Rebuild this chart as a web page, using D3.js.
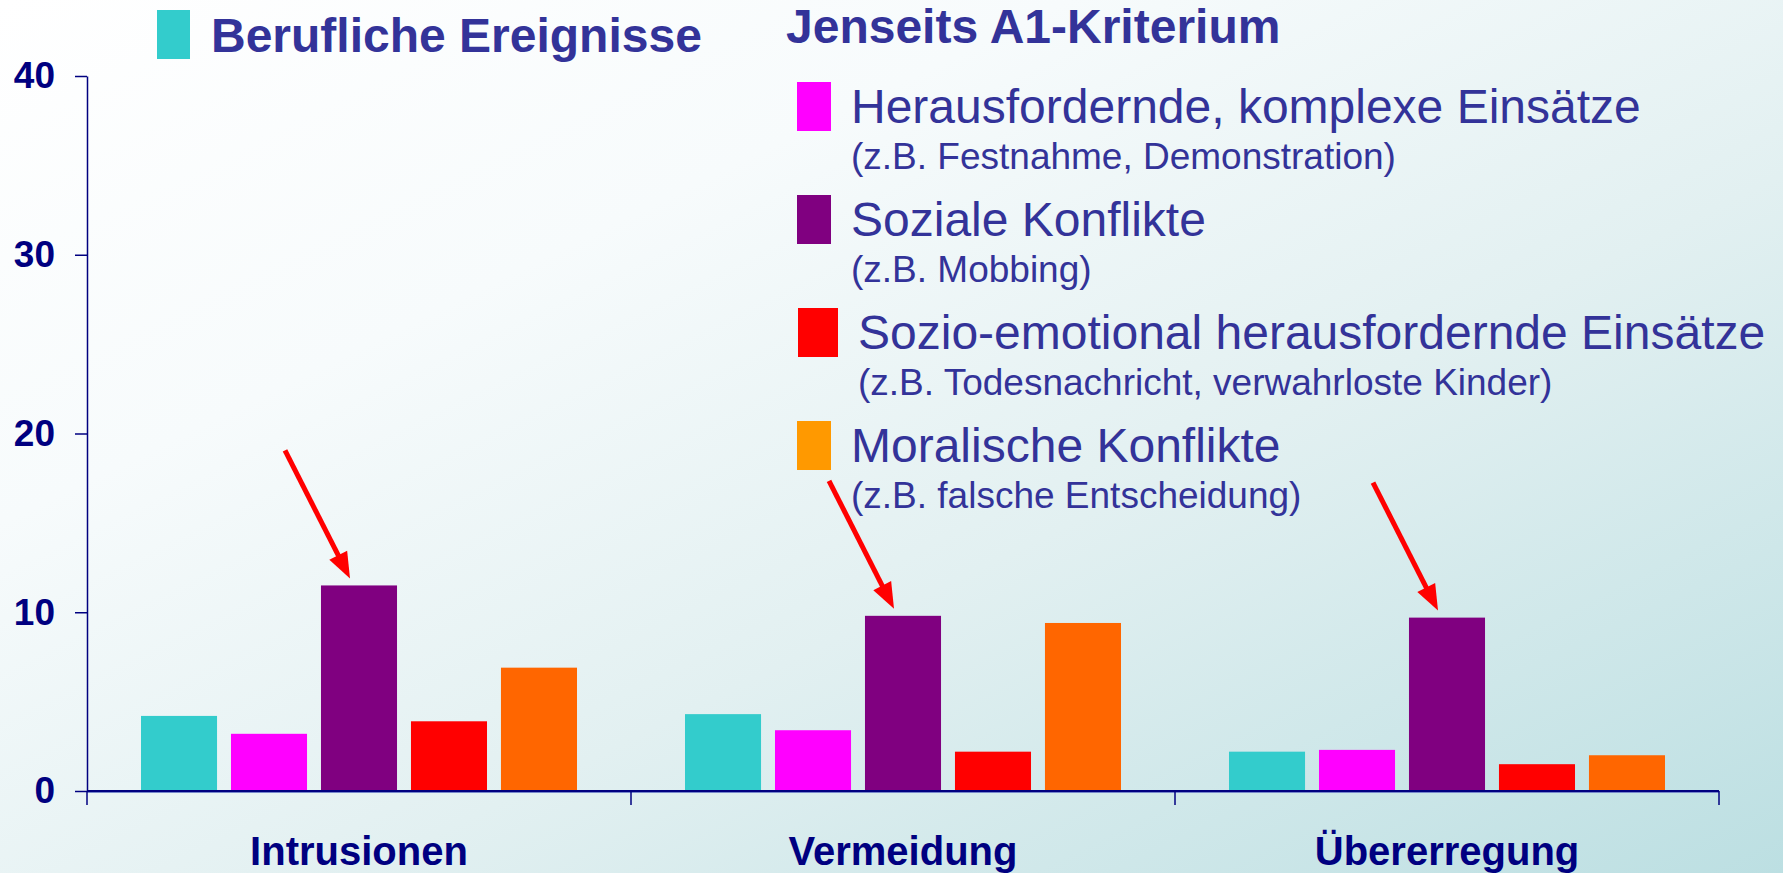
<!DOCTYPE html>
<html>
<head>
<meta charset="utf-8">
<script src="https://cdn.jsdelivr.net/npm/d3@7"></script>
<style>
    body { margin: 0; overflow: hidden; }
    text { font-family: "Liberation Sans", Arial, sans-serif; }
</style>
</head>
<body>
<script>
var width = 1783,
    height = 873;

// categories and series
var categories = ["Intrusionen", "Vermeidung", "Übererregung"];
var seriesNames = ["Berufliche Ereignisse", "Herausfordernde, komplexe Einsätze", "Soziale Konflikte",
    "Sozio-emotional herausfordernde Einsätze", "Moralische Konflikte"];
var seriesNotes = ["", "(z.B. Festnahme, Demonstration)", "(z.B. Mobbing)",
    "(z.B. Todesnachricht, verwahrloste Kinder)", "(z.B. falsche Entscheidung)"];
var barColors = ["#33cccc", "#ff00ff", "#800080", "#ff0000", "#ff6600"];
var legendColors = ["#33cccc", "#ff00ff", "#800080", "#ff0000", "#ff9900"];

// values per series, in the order of categories
var berufliche = [4.2, 4.3, 2.2];
var herausfordernd = [3.2, 3.4, 2.3];
var sozial = [11.5, 9.8, 9.7];
var soziemotional = [3.9, 2.2, 1.5];
var moralisch = [6.9, 9.4, 2.0];

var yTicks = [0, 10, 20, 30, 40];
var highlightSeries = "Soziale Konflikte";
var titleLeft = "Jenseits A1-Kriterium";

var allSeries = [berufliche, herausfordernd, sozial, soziemotional, moralisch];

var data = categories.map(function(c, i) {
    return {
        category: c,
        values: seriesNames.map(function(s, j) { return { series: s, value: allSeries[j][i], color: barColors[j] }; })
    };
});

var navy = "#000080",
    legendText = "#333399";

var svg = d3.select("body").append("svg")
    .attr("width", width)
    .attr("height", height);

/*** BACKGROUND ***/
var grad = svg.append("defs").append("linearGradient")
    .attr("id", "bg")
    .attr("x1", "0").attr("y1", "0")
    .attr("x2", "1").attr("y2", "1");
grad.append("stop").attr("offset", "0").attr("stop-color", "#ffffff");
grad.append("stop").attr("offset", "0.3").attr("stop-color", "#f7fbfc");
grad.append("stop").attr("offset", "0.6").attr("stop-color", "#e2f0f1");
grad.append("stop").attr("offset", "1").attr("stop-color", "#bcdfe2");

svg.append("rect")
    .attr("width", width)
    .attr("height", height)
    .attr("fill", "url(#bg)");

/*** SCALES ***/
var x0 = d3.scaleBand()
    .domain(categories)
    .range([87, 1719])
    .padding(0);

var x1 = d3.scaleBand()
    .domain(seriesNames)
    .range([0, x0.bandwidth()])
    .paddingInner(0.155)
    .paddingOuter(0.6);

var y = d3.scaleLinear()
    .domain([0, 40])
    .range([791, 76]);

/*** BARS ***/
var groups = svg.append("g").selectAll("g")
    .data(data)
    .enter().append("g")
    .attr("transform", function(d) { return "translate(" + x0(d.category) + ",0)"; });

groups.selectAll("rect")
    .data(function(d) { return d.values; })
    .enter().append("rect")
    .attr("x", function(d) { return x1(d.series); })
    .attr("y", function(d) { return y(d.value); })
    .attr("width", x1.bandwidth())
    .attr("height", function(d) { return y(0) - y(d.value); })
    .attr("fill", function(d) { return d.color; });

/*** AXES ***/
var yAxis = d3.axisLeft(y)
    .tickValues(yTicks)
    .tickSize(12)
    .tickSizeOuter(0)
    .tickPadding(20);

var gy = svg.append("g")
    .attr("transform", "translate(87,0)")
    .call(yAxis);
gy.select(".domain").attr("stroke", navy).attr("stroke-width", 1.5);
gy.selectAll(".tick line").attr("stroke", navy).attr("stroke-width", 1.5);
gy.selectAll(".tick text")
    .attr("fill", navy)
    .style("font-size", "37px")
    .style("font-weight", "bold");

// x axis: line plus ticks at category edges
var xEdges = categories.map(function(c) { return x0(c); }).concat([x0.range()[1]]);

svg.append("line")
    .attr("x1", x0.range()[0]).attr("x2", x0.range()[1])
    .attr("y1", y(0) + 1).attr("y2", y(0) + 1)
    .attr("stroke", "#7788cc").attr("stroke-width", 2);
svg.append("line")
    .attr("x1", x0.range()[0]).attr("x2", x0.range()[1])
    .attr("y1", y(0)).attr("y2", y(0))
    .attr("stroke", navy).attr("stroke-width", 2);

svg.append("g").selectAll("line")
    .data(xEdges)
    .enter().append("line")
    .attr("x1", function(d) { return d; })
    .attr("x2", function(d) { return d; })
    .attr("y1", y(0))
    .attr("y2", y(0) + 14)
    .attr("stroke", navy)
    .attr("stroke-width", 1.5);

svg.append("g").selectAll("text")
    .data(categories)
    .enter().append("text")
    .attr("x", function(d) { return x0(d) + x0.bandwidth() / 2; })
    .attr("y", 865)
    .attr("text-anchor", "middle")
    .attr("fill", navy)
    .style("font-size", "40px")
    .style("font-weight", "bold")
    .text(function(d) { return d; });

/*** ARROWS ***/
var arrows = svg.append("g").selectAll("g")
    .data(data)
    .enter().append("g")
    .attr("transform", function(d) {
        var v = d.values.filter(function(e) { return e.series == highlightSeries; })[0].value;
        var tx = x0(d.category) + x1(highlightSeries) + x1.bandwidth() / 2 - 9;
        var ty = y(v) - 7;
        return "translate(" + tx + "," + ty + ")";
    });

var adx = -65, ady = -128;
var alen = Math.sqrt(adx * adx + ady * ady);
var ux = adx / alen, uy = ady / alen;

arrows.append("line")
    .attr("x1", adx).attr("y1", ady)
    .attr("x2", ux * 18).attr("y2", uy * 18)
    .attr("stroke", "#ff0000")
    .attr("stroke-width", 5);

arrows.append("path")
    .attr("d", function() {
        var bx = ux * 26, by = uy * 26;
        var px = -uy * 10, py = ux * 10;
        return "M0,0L" + (bx + px) + "," + (by + py) + "L" + (bx - px) + "," + (by - py) + "Z";
    })
    .attr("fill", "#ff0000");

/*** LEGEND ***/
var legend = svg.append("g");

legend.append("rect")
    .attr("x", 157).attr("y", 10)
    .attr("width", 33).attr("height", 49)
    .attr("fill", legendColors[0]);

legend.append("text")
    .attr("x", 211).attr("y", 52)
    .attr("fill", legendText)
    .style("font-size", "48px")
    .style("font-weight", "bold")
    .text(seriesNames[0]);

legend.append("text")
    .attr("x", 786).attr("y", 43)
    .attr("fill", legendText)
    .style("font-size", "48px")
    .style("font-weight", "bold")
    .text(titleLeft);

var items = legend.selectAll("g.item")
    .data(seriesNames.slice(1))
    .enter().append("g")
    .attr("class", "item")
    .attr("transform", function(d, i) { return "translate(" + (i == 2 ? 798 : 797) + "," + (82 + i * 113) + ")"; });

items.append("rect")
    .attr("width", function(d, i) { return i == 2 ? 40 : 34; })
    .attr("height", 49)
    .attr("fill", function(d, i) { return legendColors[i + 1]; });

items.append("text")
    .attr("x", function(d, i) { return i == 2 ? 60 : 54; })
    .attr("y", 41)
    .attr("fill", legendText)
    .style("font-size", "48px")
    .text(function(d) { return d; });

items.append("text")
    .attr("x", function(d, i) { return i == 2 ? 60 : 54; })
    .attr("y", 87)
    .attr("fill", legendText)
    .style("font-size", "37px")
    .text(function(d, i) { return seriesNotes[i + 1]; });
</script>
</body>
</html>
